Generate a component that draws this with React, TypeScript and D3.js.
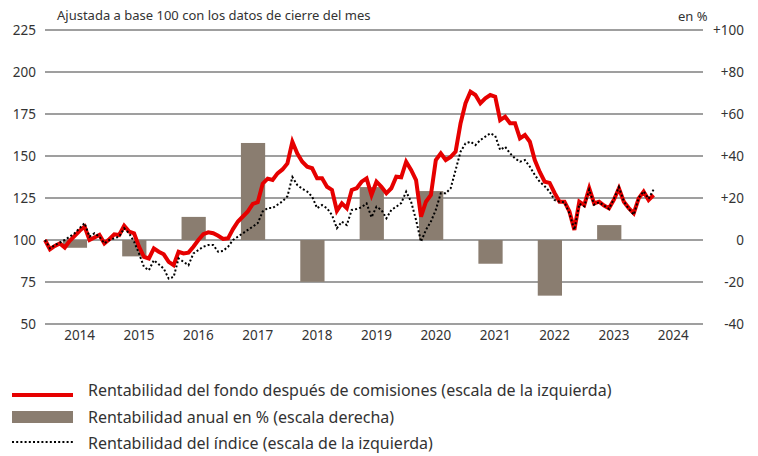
import React from "react";
import * as d3 from "d3";

// Monthly closing values, index 0 = end of Nov 2013 (base 100)
const fundValues: number[] = [
  100, 94.5, 96.5, 98, 95.5, 99.5, 102.5, 105.5, 108, 100, 101.5, 103,
  98, 100.5, 103.4, 103, 108.5, 105, 104, 96, 90, 89, 95, 93,
  91.5, 87, 85, 93, 92, 92.5, 96, 100, 103.5, 104.6, 104, 102.5,
  100.6, 101, 106.5, 111, 114, 117, 121.5, 122.5, 133.5, 136.5, 135.7, 139.7,
  142, 145.6, 158.5, 151.5, 146.6, 143.6, 142.7, 136.7, 136.7, 131.7, 129.8, 117.4,
  121.8, 118.9, 129.8, 130.8, 134.7, 136.7, 126.8, 134.7, 131.7, 127.8, 130.8, 137.7,
  137.3, 146.6, 141.7, 135.7, 113.9, 122.8, 126.8, 147.6, 151.6, 147.6, 149.5, 152.6,
  169.5, 181.4, 188.3, 186.3, 181.4, 184.3, 186.3, 185.3, 171.4, 173.4, 169.5, 169.5,
  160.5, 162.5, 158.5, 147.6, 140.5, 134.7, 134, 128, 122.8, 122.8, 117, 106,
  122.8, 120.8, 130.8, 121.8, 122.8, 120.5, 118.9, 124, 130.8, 122.8, 119, 115.9,
  124.8, 128.8, 123.8, 126.8,
];

const indexValues: number[] = [
  100, 95, 97, 98.5, 100, 102, 104, 107, 110, 102, 104, 102,
  98, 100, 101, 102, 107, 104, 99, 92, 84, 82, 88, 85.5,
  83, 77, 78, 89, 87, 85, 92, 94, 96, 97, 97, 93,
  93.5, 96, 100, 102, 104, 106, 108, 110, 117, 119, 119, 121,
  123, 126, 137.5, 132.7, 130.5, 128.8, 125.8, 118.9, 120.8, 118.9, 114.9, 107,
  110.9, 108.9, 117.9, 118.5, 119.5, 121.8, 113.5, 119.8, 117.9, 112.9, 117.9, 119.8,
  122, 128.8, 122.8, 111.9, 99, 106, 111, 118, 127.8, 127.8, 130.8, 141.7,
  152.6, 157.5, 158.5, 156.5, 159.5, 161.5, 163.5, 162, 153.6, 155.5, 151.6, 148.6,
  146.6, 147.6, 143.6, 138.7, 134.7, 132, 128.8, 123.8, 122.8, 122.5, 115.9, 106,
  121.5, 120, 130, 121, 122.5, 120.5, 118.5, 124.5, 131.5, 123, 118.5, 115,
  125, 129, 124.5, 130,
];

const barYears: number[] = [2014, 2015, 2016, 2017, 2018, 2019, 2020, 2021, 2022, 2023];
const barValues: number[] = [-3.7, -7.8, 11, 46.2, -19.9, 25.2, 23.3, -11.3, -26.5, 7.1];

const yearLabels: number[] = [2014, 2015, 2016, 2017, 2018, 2019, 2020, 2021, 2022, 2023, 2024];
const leftTicks: number[] = [225, 200, 175, 150, 125, 100, 75, 50];
const rightTicks: number[] = [100, 80, 60, 40, 20, 0, -20, -40];

const titleText = "Ajustada a base 100 con los datos de cierre del mes";
const unitText = "en %";
const legendLabels: string[] = [
  "Rentabilidad del fondo después de comisiones (escala de la izquierda)",
  "Rentabilidad anual en % (escala derecha)",
  "Rentabilidad del índice (escala de la izquierda)",
];

const RED = "#e60000";
const BAR = "#8a7d70";
const GRID = "#7f7f7f";
const TEXT = "#333333";
const FONT = "'Noto Sans', 'Open Sans', sans-serif";

export default function App() {
  const W = 758;
  const H = 456;
  const x = d3.scaleLinear().domain([0, 133]).range([45, 703]);
  const yL = d3.scaleLinear().domain([50, 225]).range([324, 30]);
  const yR = d3.scaleLinear().domain([-40, 100]).range([324, 30]);

  const line = d3
    .line<number>()
    .x((_, i) => x(i))
    .y((d) => yL(d))
    .curve(d3.curveLinear);

  return (
    <svg
      width={W}
      height={H}
      style={{ position: "fixed", left: 0, top: 0, background: "#fff" }}
      fontFamily={FONT}
    >
      {leftTicks.map((t) => (
        <line
          key={"g" + t}
          x1={45}
          x2={703}
          y1={yL(t)}
          y2={yL(t)}
          stroke={GRID}
          strokeWidth={1.5}
        />
      ))}
      {leftTicks.map((t) => (
        <text
          key={"l" + t}
          x={36}
          y={yL(t) + 5}
          textAnchor="end"
          fontSize={13.5}
          fill={TEXT}
        >
          {t}
        </text>
      ))}
      {rightTicks.map((t) => (
        <text
          key={"r" + t}
          x={744}
          y={yR(t) + 5}
          textAnchor="end"
          fontSize={13.5}
          fill={TEXT}
        >
          {t > 0 ? "+" + t : String(t)}
        </text>
      ))}
      {yearLabels.map((yr) => (
        <text
          key={"y" + yr}
          x={x((yr - 2014) * 12 + 7)}
          y={340}
          textAnchor="middle"
          fontSize={13.5}
          fill={TEXT}
        >
          {yr}
        </text>
      ))}
      {barYears.map((yr, i) => {
        const v = barValues[i];
        const x0 = x((yr - 2014) * 12 + 3.6);
        const x1 = x((yr - 2014) * 12 + 8.5);
        const y0 = yR(Math.max(0, v));
        const y1 = yR(Math.min(0, v));
        return (
          <rect key={"b" + yr} x={x0} y={y0} width={x1 - x0} height={y1 - y0} fill={BAR} />
        );
      })}
      <path d={line(fundValues) || ""} fill="none" stroke={RED} strokeWidth={4} strokeLinejoin="miter" />
      <path
        d={line(indexValues) || ""}
        fill="none"
        stroke="#000"
        strokeWidth={2}
        strokeDasharray="2,2.2"
      />
      <text x={57} y={20} fontSize={13} fill={TEXT}>
        {titleText}
      </text>
      <text x={678} y={21} fontSize={13} fill={TEXT}>
        {unitText}
      </text>
      <line x1={12} x2={73} y1={395} y2={395} stroke={RED} strokeWidth={4} />
      <rect x={12} y={411} width={61} height={12} fill={BAR} />
      <line x1={12} x2={73} y1={442} y2={442} stroke="#000" strokeWidth={2} strokeDasharray="2,2.2" />
      {legendLabels.map((t, i) => (
        <text key={"lg" + i} x={88} y={[396, 423, 449][i]} fontSize={16} fill={TEXT}>
          {t}
        </text>
      ))}
    </svg>
  );
}
